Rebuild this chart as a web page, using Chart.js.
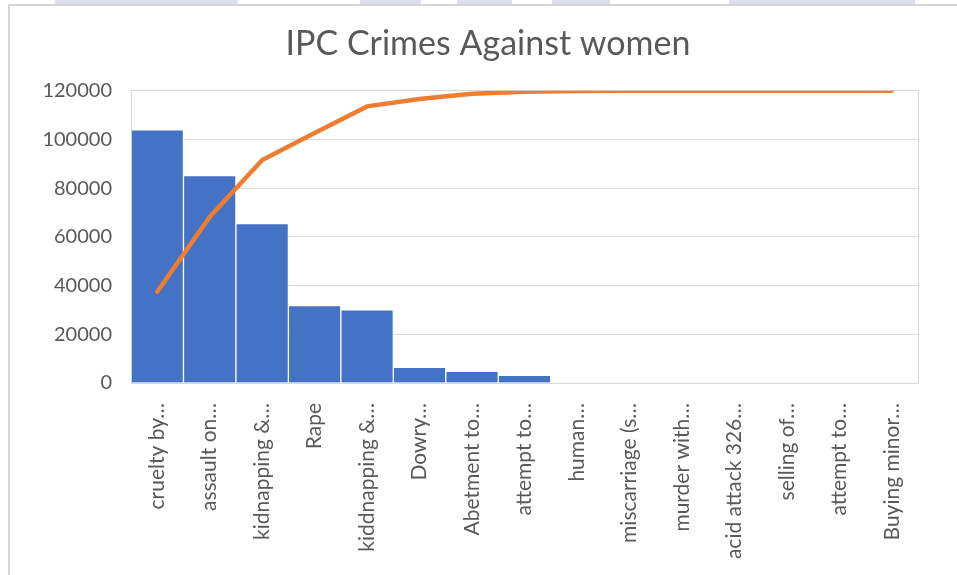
<!DOCTYPE html>
<html>
<head>
<meta charset="utf-8">
<title>IPC Crimes Against women</title>
<script src="https://cdn.jsdelivr.net/npm/chart.js"></script>
<style>
  body { margin: 0; background: #fff; }
  #wrap { position: relative; width: 957px; height: 575px; overflow: hidden; }
  #frame { position: absolute; left: 8px; top: 4px; width: 1000px; height: 600px;
           border-left: 2px solid #d6d6d6; border-top: 2px solid #d6d6d6; }
  .band { position: absolute; top: 0; height: 4px; background: #dcdded; }
  canvas { position: absolute; left: 0; top: 0; }
</style>
</head>
<body>
<div id="wrap">
  <div class="band" style="left:55px;width:183px"></div>
  <div class="band" style="left:360px;width:61px"></div>
  <div class="band" style="left:457px;width:55px"></div>
  <div class="band" style="left:552px;width:58px"></div>
  <div class="band" style="left:729px;width:186px"></div>
  <div id="frame"></div>
  <canvas id="c" width="957" height="575"></canvas>
</div>
<script>
  // data
  var categories = ['cruelty by…', 'assault on…', 'kidnapping &…', 'Rape', 'kiddnapping &…',
    'Dowry…', 'Abetment to…', 'attempt to…', 'human…', 'miscarriage (s…',
    'murder with…', 'acid attack 326…', 'selling of…', 'attempt to…', 'Buying minor…'];
  var crimeCounts = [104000, 85200, 65500, 31800, 30100, 6450, 4800, 3150, 0, 0, 0, 0, 0, 0, 0];
  var cumulativeLine = [37500, 68200, 91600, 102700, 113600, 116600, 118800, 119600, 119900,
    120000, 120000, 120000, 120000, 120000, 120000];
  var yTicks = [0, 20000, 40000, 60000, 80000, 100000, 120000];

  var textColor = '#595959';
  var gridColor = '#d9d9d9';
  var fontFamily = 'Lato, "Open Sans", sans-serif';

  new Chart(document.getElementById('c').getContext('2d'), {
    data: {
      labels: categories,
      datasets: [
        {
          type: 'line',
          data: cumulativeLine,
          borderColor: '#ED7D31',
          borderWidth: 4.5,
          pointRadius: 0,
          tension: 0,
          borderCapStyle: 'round',
          order: 0
        },
        {
          type: 'bar',
          data: crimeCounts,
          backgroundColor: '#4472C4',
          borderColor: '#ffffff',
          borderWidth: 1,
          barPercentage: 1,
          categoryPercentage: 1,
          order: 1
        }
      ]
    },
    options: {
      responsive: false,
      animation: false,
      // small right padding + wide empty right axis keeps the title centred like the reference
      layout: { padding: { left: 20, right: 1, top: 0, bottom: 0 } },
      plugins: {
        legend: { display: false },
        tooltip: { enabled: false },
        title: {
          display: true,
          text: 'IPC Crimes Against women',
          color: textColor,
          font: { family: fontFamily, size: 34, weight: 'normal' },
          padding: { top: 24, bottom: 26 }
        }
      },
      scales: {
        x: {
          grid: { display: false },
          border: { display: true, color: gridColor, width: 1 },
          ticks: {
            color: textColor,
            font: { family: fontFamily, size: 21 },
            maxRotation: 90,
            minRotation: 90,
            autoSkip: false,
            crossAlign: 'center',
            padding: 12
          },
          afterFit: function (scale) { scale.height = 192; }
        },
        y: {
          min: 0,
          max: 120000,
          afterBuildTicks: function (scale) {
            scale.ticks = yTicks.map(function (v) { return { value: v }; });
          },
          grid: { color: gridColor, lineWidth: 1, drawTicks: false },
          border: { display: true, color: gridColor, width: 1 },
          ticks: {
            color: textColor,
            font: { family: fontFamily, size: 20 },
            padding: 19,
            callback: function (v) { return String(v); }
          },
          afterFit: function (scale) { scale.width = 111; }
        },
        y2: {
          position: 'right',
          min: 0,
          max: 120000,
          grid: { display: false, drawTicks: false },
          border: { display: true, color: gridColor, width: 1 },
          ticks: { display: false },
          afterFit: function (scale) { scale.width = 38; }
        }
      }
    }
  });
</script>
</body>
</html>
